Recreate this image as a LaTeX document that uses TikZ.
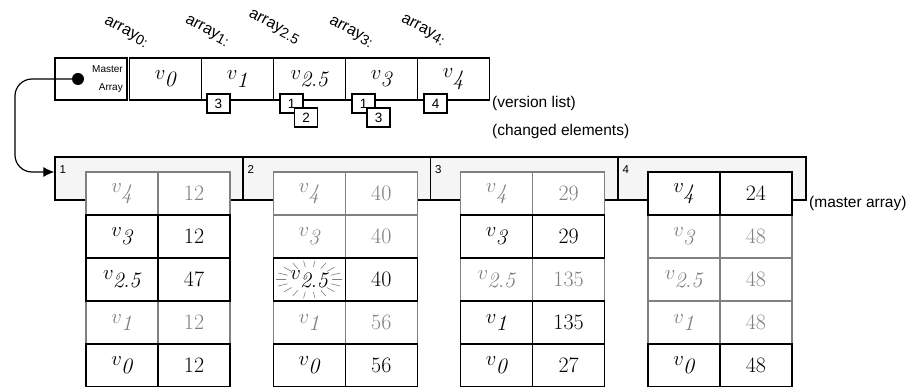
\documentclass[tikz,border=0pt]{standalone}
\usepackage{fontspec}
\setsansfont{Liberation Sans}
\usetikzlibrary{arrows.meta}

\definecolor{oldgray}{HTML}{808080}
\definecolor{barfill}{HTML}{F5F5F5}

% version entry, subscript kept large
\newcommand{\vlab}[1]{$v_{\textstyle\mathit{#1}}$}
% label above a version
\newcommand{\arrlab}[1]{array\raisebox{-3pt}{\fontsize{14}{14}\selectfont #1}}

\begin{document}
\begin{tikzpicture}[x=1pt, y=-1pt,
  cell/.style={draw, fill=white, line width=1.3pt, minimum width=72pt,
    minimum height=43pt, inner sep=0pt, font=\fontsize{22}{26}\selectfont},
  old/.style={cell, draw=oldgray, text=oldgray},
  cur/.style={cell, draw=black, text=black},
  slot/.style={cell, minimum height=42pt},
  tag/.style={draw, fill=white, line width=1.1pt, minimum width=23pt,
    minimum height=19pt, inner sep=0pt, font=\sffamily\fontsize{13.5}{14}\selectfont},
  bar/.style={draw, fill=barfill, line width=1.3pt, minimum width=188pt,
    minimum height=43pt, inner sep=0pt},
  barnum/.style={anchor=north west, inner sep=0pt, font=\sffamily\fontsize{11.5}{12}\selectfont},
  note/.style={anchor=west, inner sep=0pt, font=\sffamily\fontsize{15.5}{18}\selectfont},
  arrlabel/.style={rotate=-28, inner sep=0pt, font=\sffamily\fontsize{16}{18}\selectfont}]
\useasboundingbox (0,0) rectangle (912,387);

% version list
\node[slot] (master) at (91,79) {};
\node[circle, fill, inner sep=0pt, minimum size=12pt] (dot) at (78,79) {};
\node[anchor=east, align=right, inner sep=0pt,
      font=\sffamily\fontsize{10}{18}\selectfont] (mtext) at (123,79) {Master\\Array};
\foreach \i/\ver/\px in {0/0/165.5, 1/1/237.5, 25/2.5/309.5, 3/3/381.5, 4/4/453.5}
  \node[slot] (ver\i) at (\px,79) {\vlab{\ver}};
\foreach \i/\txt/\px/\py in {0/0:/126/32, 1/1:/207/31, 25/2.5/274/27, 3/3:/351/32, 4/4:/423/30}
  \node[arrlabel] (lab\i) at (\px,\py) {\arrlab{\txt}};

% changed elements
\node[tag] (tag1) at (218.5,103.5) {3};
\node[tag] (tag25a) at (291.5,103.5) {1};
\node[tag] (tag25b) at (306,117.5) {2};
\node[tag] (tag3a) at (363.5,103.5) {1};
\node[tag] (tag3b) at (378.5,117.5) {3};
\node[tag] (tag4) at (435.5,103.5) {4};
\node[note] (vlist) at (492,103) {(version list)};
\node[note] (clist) at (492,131) {(changed elements)};

% master array
\foreach \m/\px in {1/149, 2/337, 3/524.5, 4/712} {
  \node[bar] (m\m) at (\px,178.5) {};
  \node[barnum] at ([xshift=5pt,yshift=-9pt]m\m.north west) {\m};
}
\node[note] (mlist) at (809,203) {(master array)};
\draw[-{Latex[length=11pt,width=10pt]}, line width=1.2pt, rounded corners=17pt]
  (dot.west) -| (15,120) |- ([yshift=6.5pt]m1.west);

% per-element version tables, superseded entries first
\foreach \t/\row/\ver/\val in {1/0/4/12, 1/3/1/12, 2/0/4/40, 2/1/3/40, 2/3/1/56,
    3/0/4/29, 3/2/2.5/135, 4/1/3/48, 4/2/2.5/48, 4/3/1/48} {
  \node[old] (v\t\row) at (122+187.3*\t-187.3, 193.5+43*\row) {\vlab{\ver}};
  \node[old] (n\t\row) at (194+187.3*\t-187.3, 193.5+43*\row) {\val};
}
\foreach \t/\row/\ver/\val in {1/1/3/12, 1/2/2.5/47, 1/4/0/12, 2/2/2.5/40, 2/4/0/56,
    3/1/3/29, 3/3/1/135, 3/4/0/27, 4/0/4/24, 4/4/0/48} {
  \node[cur] (v\t\row) at (122+187.3*\t-187.3, 193.5+43*\row) {\vlab{\ver}};
  \node[cur] (n\t\row) at (194+187.3*\t-187.3, 193.5+43*\row) {\val};
}

% highlight
\foreach \a in {0,20,...,340}
  \draw[oldgray, line width=0.6pt] ([shift={(\a:23 and 12.5)}]v22.center) -- ([shift={(\a:33 and 19)}]v22.center);
\end{tikzpicture}
\end{document}
